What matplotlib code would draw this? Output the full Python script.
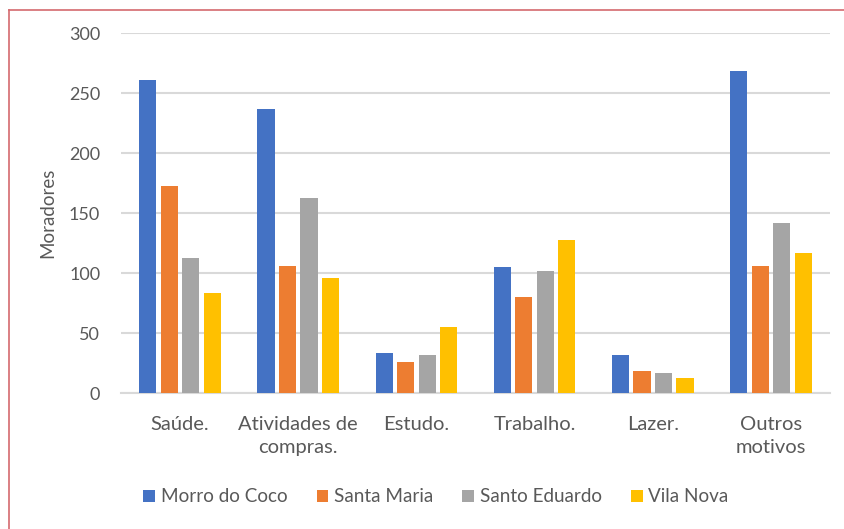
import numpy as np
import matplotlib.pyplot as plt
from matplotlib.lines import Line2D
from matplotlib.patches import Patch

categories = ["Saúde.", "Atividades de\ncompras.", "Estudo.", "Trabalho.", "Lazer.", "Outros\nmotivos"]
series_names = ["Morro do Coco", "Santa Maria", "Santo Eduardo", "Vila Nova"]
morro_do_coco = [261, 237, 34, 105, 32, 269]
santa_maria = [173, 106, 26, 80, 19, 106]
santo_eduardo = [113, 163, 32, 102, 17, 142]
vila_nova = [84, 96, 55, 128, 13, 117]
colors = ["#4472C4", "#ED7D31", "#A5A5A5", "#FFC000"]

plt.rcParams['font.family'] = ['Lato', 'DejaVu Sans']
txt = "#595959"

fig = plt.figure(figsize=(8.45, 5.29), dpi=100)
ax = fig.add_axes([121 / 845, 1 - 393.3 / 529, 709 / 845, 360 / 529])

x = np.arange(len(categories))
pitch = 0.182
bw = 0.145
for i, vals in enumerate([morro_do_coco, santa_maria, santo_eduardo, vila_nova]):
    ax.bar(x + (i - 1.5) * pitch, vals, width=bw, color=colors[i], zorder=3)

ax.set_xlim(-0.5, len(categories) - 0.5)
ax.set_ylim(0, 300)
ax.set_yticks(range(0, 301, 50))
ax.yaxis.grid(True, color="#D9D9D9", linewidth=1.5, zorder=0)
for s in ["top", "right", "left"]:
    ax.spines[s].set_visible(False)
ax.spines["bottom"].set_color("#D9D9D9")
ax.spines["bottom"].set_linewidth(1.5)
ax.tick_params(axis="both", length=0, colors=txt, labelsize=13)
ax.tick_params(axis="y", pad=15)
ax.tick_params(axis="x", pad=16, labelsize=14.5)
ax.set_xticks(x)
ax.set_xticklabels(categories, linespacing=1.45)
ax.set_ylabel("Moradores", color=txt, fontsize=13.5, labelpad=9)

handles = [Patch(facecolor=c, edgecolor="none") for c in colors]
fig.legend(handles, series_names, loc="center", bbox_to_anchor=(436 / 845, 1 - 497 / 529),
           ncol=4, frameon=False, fontsize=13.6, labelcolor=txt, handlelength=0.62,
           handleheight=0.62, handletextpad=0.3, columnspacing=1.55)

# reddish frame on top and left
fig.add_artist(Line2D([9 / 845, 9 / 845], [0, 1 - 10 / 529], transform=fig.transFigure,
                      color="#D46A6E", linewidth=1.2))
fig.add_artist(Line2D([9 / 845, 1], [1 - 10 / 529, 1 - 10 / 529], transform=fig.transFigure,
                      color="#D46A6E", linewidth=1.2))

fig.savefig("out.png", dpi=100)
